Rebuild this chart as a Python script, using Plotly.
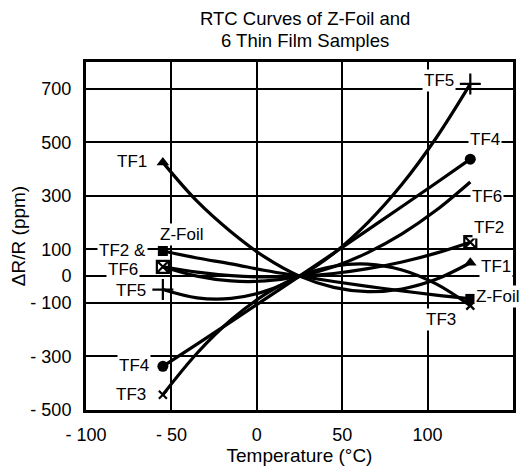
import plotly.graph_objects as go

temps = [-55, -35, -15, 5, 25, 45, 65, 85, 105, 125]

tf1 = [425, 280, 165, 70, 0, -42, -58, -48, -12, 50]
zfoil = [94, 68, 46, 21, 0, -20, -38, -55, -71, -85]
tf2 = [35, 15, 2, -3, 0, 10, 28, 53, 86, 127]
tf6 = [35, 0, -18, -18, 0, 35, 88, 158, 246, 352]
tf5 = [-50, -81, -83, -56, 0, 85, 200, 343, 516, 718]
tf4 = [-337, -254, -170, -85, 0, 86, 173, 260, 348, 437]
tf3 = [-443, -288, -163, -67, 0, 37, 45, 23, -29, -110]

x_ticks = [-100, -50, 0, 50, 100, 150]
x_ticktext = ["- 100", "- 50", "0", "50", "100", "150"]
y_ticks = [700, 500, 300, 100, 0, -100, -300, -500]
y_ticktext = ["700", "500", "300", "100", "0", "- 100", "- 300", "- 500"]

title_lines = ["RTC Curves of Z-Foil and", "6 Thin Film Samples"]

series = [
    ("TF1", tf1, "triangle-up", 11, True),
    ("Z-Foil", zfoil, "square", 10, True),
    ("TF2", tf2, "square-x-open", 12, True),
    ("TF6", tf6, None, 0, False),
    ("TF5", tf5, "cross-thin", 15, True),
    ("TF4", tf4, "circle", 11, True),
    ("TF3", tf3, "x-thin", 8, True),
]

# label texts and positions (T, R)
labels = [
    ("TF1", -73, 430),
    ("Z-Foil", -44, 154),
    ("TF2 &", -78.5, 97),
    ("TF6", -78.5, 25),
    ("TF5", -73.5, -54),
    ("TF4", -72, -334),
    ("TF3", -73.5, -443),
    ("TF5", 106.5, 730),
    ("TF4", 133.5, 509),
    ("TF6", 134.5, 297),
    ("TF2", 136, 181),
    ("TF1", 140, 37),
    ("Z-Foil", 141, -75),
    ("TF3", 108, -162),
]

FONT = "Liberation Sans, Arial, Helvetica, sans-serif"

fig = go.Figure()
for name, vals, sym, size, has_marker in series:
    fig.add_trace(go.Scatter(
        x=temps, y=vals, mode="lines", name=name,
        line=dict(color="black", width=3.2, shape="spline", smoothing=1.0),
        showlegend=False, hoverinfo="skip",
    ))
for name, vals, sym, size, has_marker in series:
    if not has_marker:
        continue
    open_sym = sym in ("square-x-open", "cross-thin", "x-thin")
    fig.add_trace(go.Scatter(
        x=[temps[0], temps[-1]], y=[vals[0], vals[-1]], mode="markers",
        marker=dict(symbol=sym, size=size, color="black",
                    line=dict(color="black", width=2.2 if open_sym else 0)),
        showlegend=False, hoverinfo="skip", cliponaxis=False,
    ))

for text, tx, ty in labels:
    fig.add_annotation(
        x=tx, y=ty, xref="x", yref="y", text=text, showarrow=False,
        font=dict(family=FONT, size=17, color="black"),
        bgcolor="white", borderpad=1, xanchor="center", yanchor="middle",
    )

for line, shift in zip(title_lines, [44, 22]):
    fig.add_annotation(
        x=0.5, y=1, xref="paper", yref="paper", xanchor="center",
        yanchor="middle", yshift=shift, xshift=5,
        text=line, showarrow=False, borderpad=0,
        font=dict(family=FONT, size=18.5, color="black"),
    )

# page body adds an 8px margin, so the figure is sized to fit the window
fig.update_layout(
    width=520, height=466,
    margin=dict(l=78, r=15, t=54, b=64, autoexpand=False),
    paper_bgcolor="white", plot_bgcolor="white",
    font=dict(family=FONT, size=18, color="black"),
)
fig.update_xaxes(
    range=[-100, 150], tickvals=x_ticks, ticktext=x_ticktext,
    showgrid=True, gridcolor="black", gridwidth=1.5,
    showline=True, linecolor="black", linewidth=3, mirror=True,
    zeroline=False, ticks="", ticklabelstandoff=6, automargin=False,
    tickfont=dict(family=FONT, size=18),
    title=dict(text="Temperature (°C)", font=dict(family=FONT, size=19), standoff=6),
)
fig.update_yaxes(
    range=[-500, 800], tickvals=y_ticks, ticktext=y_ticktext,
    showgrid=True, gridcolor="black", gridwidth=1.5,
    showline=True, linecolor="black", linewidth=3, mirror=True,
    zeroline=False, ticks="", ticklabelstandoff=8, automargin=False,
    tickfont=dict(family=FONT, size=18),
    title=dict(text="ΔR/R (ppm)", font=dict(family=FONT, size=19), standoff=6),
)

fig.write_html("out.html")
